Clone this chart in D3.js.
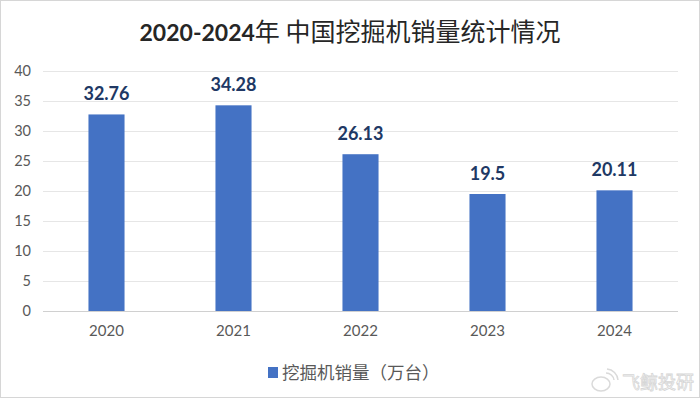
<!DOCTYPE html>
<html>
<head>
<meta charset="utf-8">
<script src="https://cdn.jsdelivr.net/npm/d3@7"></script>
<style>
  html, body { margin: 0; padding: 0; background: #fff; }
  svg { display: block; font-family: Lato, "Noto Sans CJK SC", sans-serif; }
</style>
</head>
<body>
<svg id="chart" width="700" height="398"></svg>
<script>
// data
const years = ['2020', '2021', '2022', '2023', '2024']
const sales = [32.76, 34.28, 26.13, 19.5, 20.11]
const yTicks = [0, 5, 10, 15, 20, 25, 30, 35, 40]
const seriesName = '挖掘机销量（万台）'
const titleYears = '2020-2024'
const titleText = '年 中国挖掘机销量统计情况'

const svg = d3.select('#chart')
const W = 700, H = 398

// light frame round the picture
svg.append('rect')
  .attr('x', 0.5).attr('y', 0.5)
  .attr('width', W - 1).attr('height', H - 1)
  .attr('fill', '#fff')
  .attr('stroke', '#d6d6d6')

// title: digits bold, chinese part regular
const t = svg.append('text')
  .attr('x', 350).attr('y', 41)
  .attr('text-anchor', 'middle')
  .attr('fill', '#262626')
t.append('tspan')
  .attr('font-size', 23)
  .attr('font-weight', 'bold')
  .style('font-family', 'Lato, sans-serif')
  .text(titleYears)
t.append('tspan')
  .attr('font-size', 25)
  .attr('font-weight', 400)
  .style('font-family', '"Noto Sans CJK SC", sans-serif')
  .text(titleText)

// scales
const x = d3.scaleBand()
  .domain(years)
  .range([43, 678])
  .paddingInner(0.716)
  .paddingOuter(0.358)

const y = d3.scaleLinear()
  .domain([0, 40])
  .range([311, 71])

// gridlines
svg.append('g')
  .selectAll('line')
  .data(yTicks)
  .join('line')
  .attr('x1', 43).attr('x2', 678)
  .attr('y1', d => Math.round(y(d)) + 0.5)
  .attr('y2', d => Math.round(y(d)) + 0.5)
  .attr('stroke', d => d === 0 ? '#d0d0d0' : '#e6e6e6')
  .attr('stroke-width', 1)

// y axis labels
const yAxis = svg.append('g')
  .attr('transform', 'translate(31,0)')
  .call(d3.axisLeft(y).tickValues(yTicks).tickSize(0).tickPadding(0))
yAxis.select('.domain').remove()
yAxis.selectAll('text')
  .attr('font-size', 14.5)
  .attr('fill', '#595959')
  .style('font-family', 'Lato, sans-serif')

// x axis labels
const xAxis = svg.append('g')
  .attr('transform', 'translate(0,325)')
  .call(d3.axisBottom(x).tickSize(0).tickPadding(0))
xAxis.select('.domain').remove()
xAxis.selectAll('text')
  .attr('font-size', 15)
  .attr('fill', '#595959')
  .style('font-family', 'Lato, sans-serif')

// bars
svg.append('g')
  .selectAll('rect')
  .data(sales)
  .join('rect')
  .attr('x', (d, i) => x(years[i]))
  .attr('y', d => y(d))
  .attr('width', x.bandwidth())
  .attr('height', d => y(0) - y(d))
  .attr('fill', '#4472c4')

// value labels
svg.append('g')
  .selectAll('text')
  .data(sales)
  .join('text')
  .attr('x', (d, i) => x(years[i]) + x.bandwidth() / 2)
  .attr('y', d => y(d) - 14)
  .attr('text-anchor', 'middle')
  .attr('font-size', 18)
  .attr('font-weight', 'bold')
  .attr('fill', '#203864')
  .style('font-family', 'Lato, sans-serif')
  .text(d => d)

// legend
const legend = svg.append('g').attr('transform', 'translate(268,367)')
legend.append('rect')
  .attr('width', 10).attr('height', 11)
  .attr('fill', '#4472c4')
legend.append('text')
  .attr('x', 14).attr('y', 12)
  .attr('font-size', 17.5)
  .attr('fill', '#595959')
  .style('font-family', '"Noto Sans CJK SC", sans-serif')
  .text(seriesName)

// watermark
const wm = svg.append('g').attr('opacity', 0.55)
wm.append('ellipse')
  .attr('cx', 601).attr('cy', 384)
  .attr('rx', 9).attr('ry', 7)
  .attr('fill', 'none').attr('stroke', '#bdbdbd').attr('stroke-width', 1.5)
wm.append('path')
  .attr('d', 'M606,373 a8,8 0 0 1 8,7 M607,369 a12,12 0 0 1 11,11')
  .attr('fill', 'none').attr('stroke', '#bdbdbd').attr('stroke-width', 1.5)
wm.append('text')
  .attr('x', 622).attr('y', 389)
  .attr('font-size', 18)
  .attr('fill', '#fff')
  .attr('stroke', '#b5b5b5')
  .attr('stroke-width', 0.8)
  .style('font-family', '"Noto Sans CJK SC", sans-serif')
  .text('飞鲸投研')
</script>
</body>
</html>
